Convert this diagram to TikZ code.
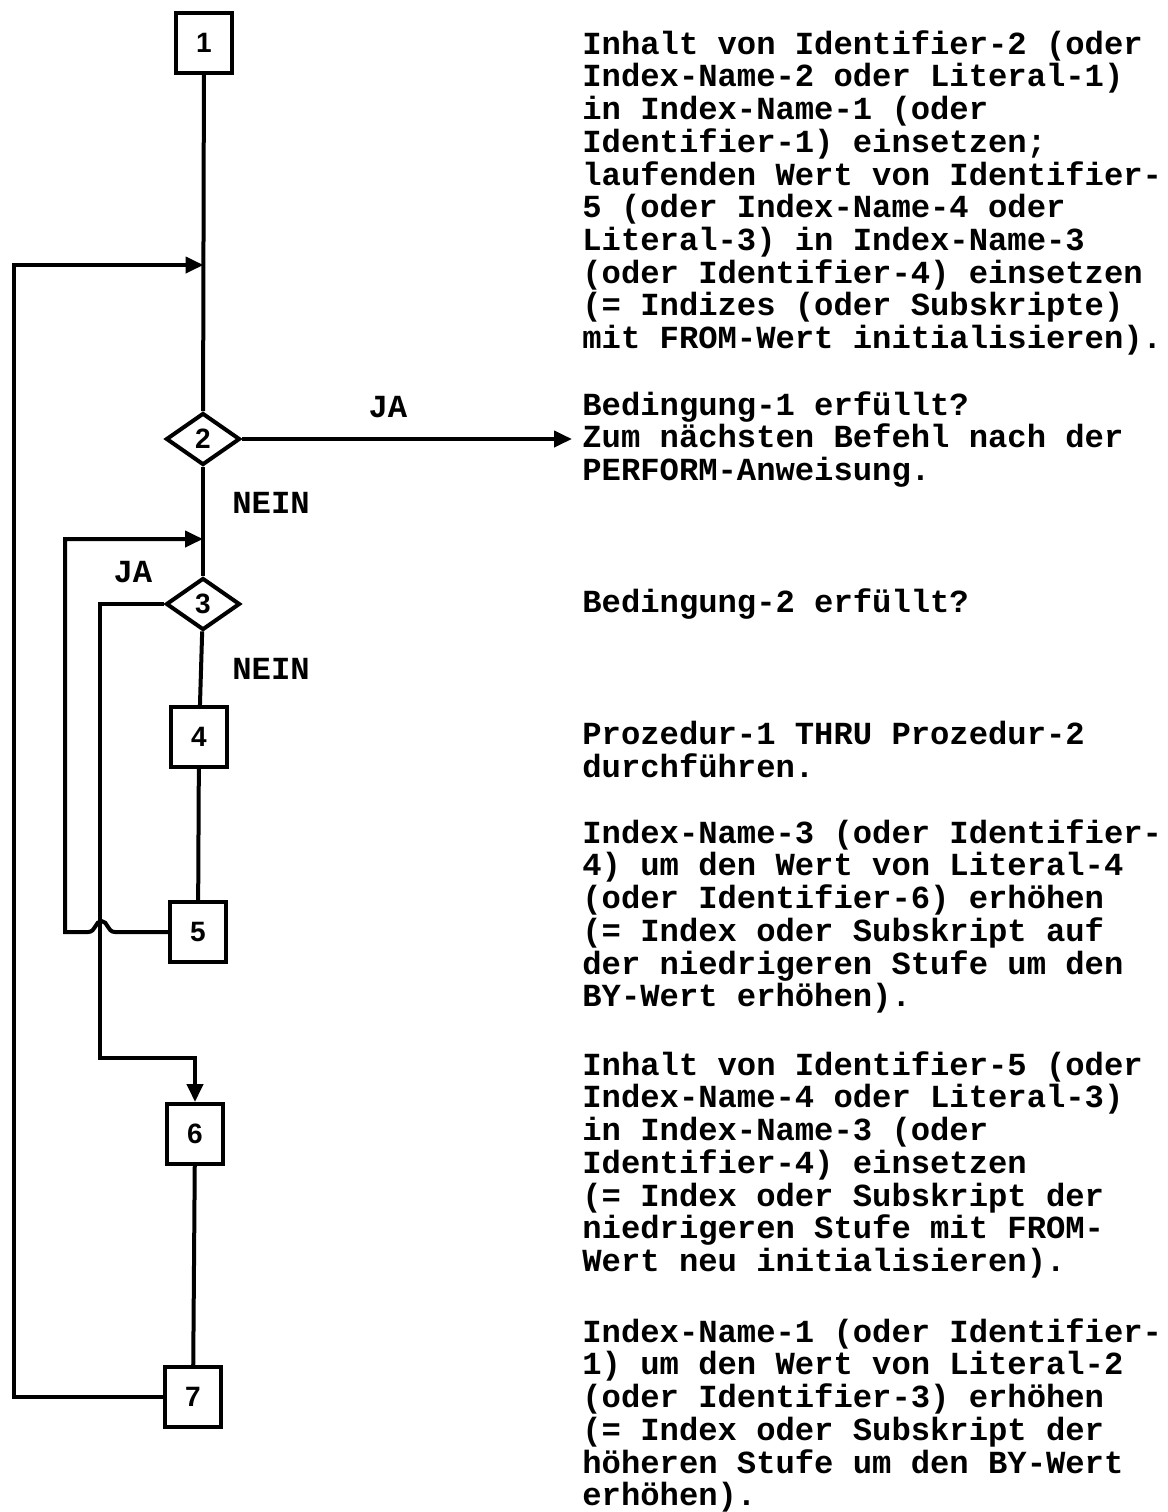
\documentclass[tikz,border=0pt]{standalone}
\usepackage{fontspec}
\setmainfont{Liberation Sans}
\setmonofont{Liberation Mono}
\usetikzlibrary{shapes.geometric,arrows.meta}

\newcommand{\descfont}{\ttfamily\bfseries\fontsize{16.1pt}{16.35pt}\selectfont}
\newcommand{\stepfont}{\rmfamily\bfseries\fontsize{14pt}{14pt}\selectfont}

\begin{document}
\begin{tikzpicture}[x=0.5pt, y=-0.5pt, >={Triangle[length=9pt,width=8pt]},
                    every node/.style={font=\descfont},
                    line/.style={line width=2pt},
                    stepbox/.style={draw, line width=2pt, minimum width=28pt,
                                    minimum height=30pt, inner sep=0pt, font=\stepfont},
                    test/.style={draw, diamond, line width=2pt, minimum width=37pt,
                                 minimum height=26pt, inner sep=0pt, font=\stepfont},
                    lbl/.style={inner sep=0pt},
                    desc/.style={anchor=north west, align=left, inner sep=0pt,
                                 execute at begin node={\rule{0pt}{12pt}}}]

  \useasboundingbox (0,0) rectangle (1168,1512);

  %% Schritte und Abfragen
  \node[stepbox] (s1) at (204,43) {1};
  \node[test]    (t2) at (203,439) {2};
  \node[test]    (t3) at (203,604) {3};
  \node[stepbox] (s4) at (199,737) {4};
  \node[stepbox] (s5) at (198,932) {5};
  \node[stepbox] (s6) at (195,1134) {6};
  \node[stepbox] (s7) at (193,1397) {7};

  %% Einmündungen in die Hauptlinie
  \coordinate (outer) at (203.5,265);
  \coordinate (inner) at (203,539);
  \coordinate (exit)  at (572,439);

  %% Hauptlinie
  \draw[line] (s1) -- (t2);
  \draw[line] (t2) -- (t3);
  \draw[line] (t3) -- (s4);
  \draw[line] (s4) -- (s5);
  \draw[line] (s6) -- (s7);

  %% JA-Ausgang von 2
  \draw[line, ->] (t2.east) -- (exit);

  %% JA-Ausgang von 3 nach 6
  \draw[line, ->] (t3.west) -- (100,604) -- (100,1058) -| (s6.north);

  %% Rücksprung von 5 (mit Brücke über die Linie von 3)
  \draw[line, ->] (s5.west) -- (115,932)
    .. controls (107,932) and (108,921) .. (101.5,921)
    .. controls (95,921) and (96,932) .. (88,932)
    -- (65,932) |- (inner);

  %% Rücksprung von 7
  \draw[line, ->] (s7.west) -- (14,1397) |- (outer);

  %% Beschriftung der Ausgänge
  \node[lbl] (ja2)   at (388,407) {JA};
  \node[lbl, anchor=west] (nein2) at (232,503) {NEIN};
  \node[lbl] (ja3)   at (133,572) {JA};
  \node[lbl, anchor=west] (nein3) at (232,669) {NEIN};

  %% Erläuterungen rechts
  \node[desc] (d1) at (582,30)
    {Inhalt von Identifier-2 (oder\\
     Index-Name-2 oder Literal-1)\\
     in Index-Name-1 (oder\\
     Identifier-1) einsetzen;\\
     laufenden Wert von Identifier-\\
     5 (oder Index-Name-4 oder\\
     Literal-3) in Index-Name-3\\
     (oder Identifier-4) einsetzen\\
     (= Indizes (oder Subskripte)\\
     mit FROM-Wert initialisieren).};
  \node[desc] (d2) at (582,391)
    {Bedingung-1 erfüllt?\\
     Zum nächsten Befehl nach der\\
     PERFORM-Anweisung.};
  \node[desc] (d3) at (582,588) {Bedingung-2 erfüllt?};
  \node[desc] (d4) at (582,721)
    {Prozedur-1 THRU Prozedur-2\\
     durchführen.};
  \node[desc] (d5) at (582,819)
    {Index-Name-3 (oder Identifier-\\
     4) um den Wert von Literal-4\\
     (oder Identifier-6) erhöhen\\
     (= Index oder Subskript auf\\
     der niedrigeren Stufe um den\\
     BY-Wert erhöhen).};
  \node[desc] (d6) at (582,1051)
    {Inhalt von Identifier-5 (oder\\
     Index-Name-4 oder Literal-3)\\
     in Index-Name-3 (oder\\
     Identifier-4) einsetzen\\
     (= Index oder Subskript der\\
     niedrigeren Stufe mit FROM-\\
     Wert neu initialisieren).};
  \node[desc] (d7) at (582,1318)
    {Index-Name-1 (oder Identifier-\\
     1) um den Wert von Literal-2\\
     (oder Identifier-3) erhöhen\\
     (= Index oder Subskript der\\
     höheren Stufe um den BY-Wert\\
     erhöhen).};

\end{tikzpicture}
\end{document}
